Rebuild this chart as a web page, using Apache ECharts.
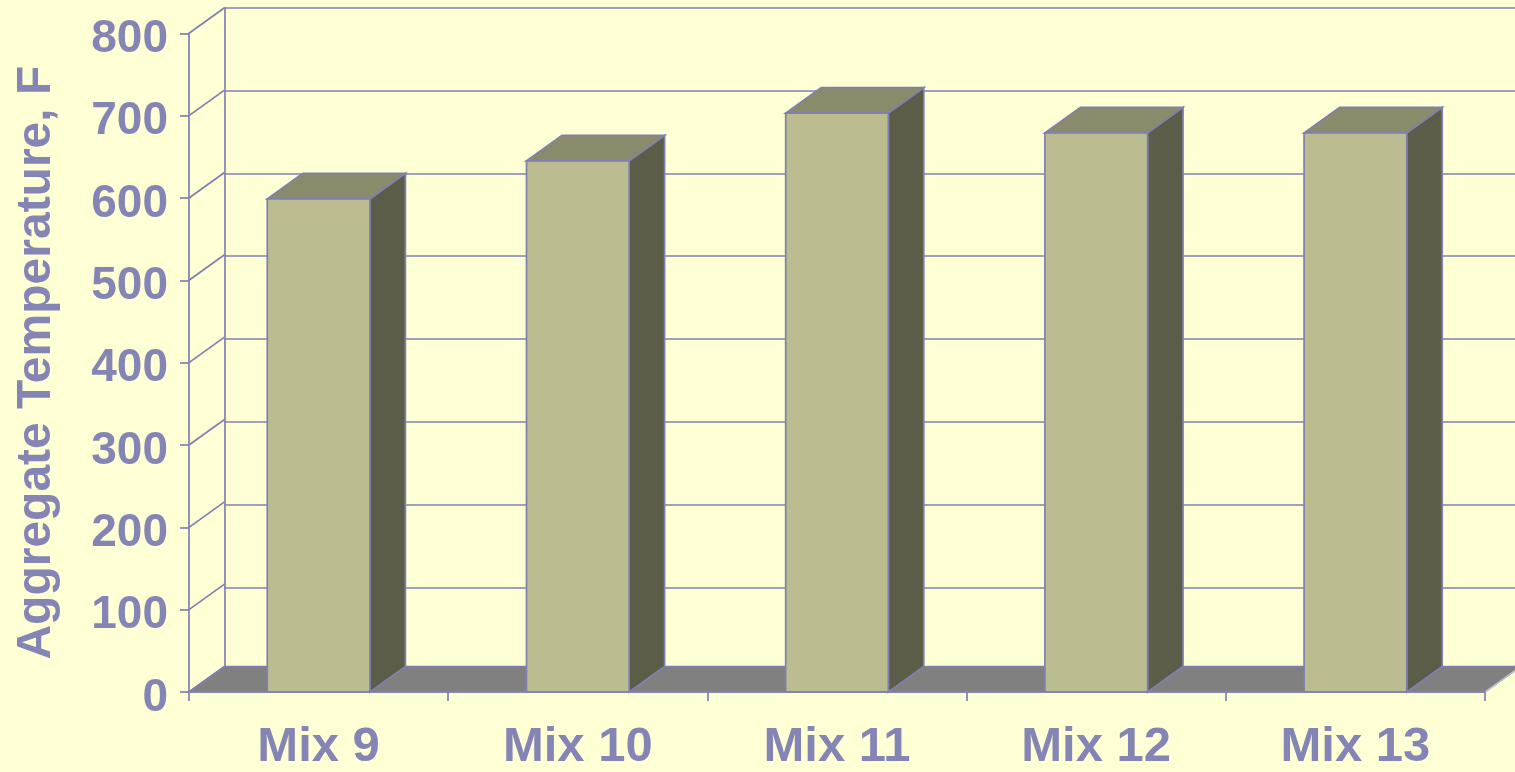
<!DOCTYPE html>
<html>
<head>
<meta charset="utf-8">
<script src="https://cdn.jsdelivr.net/npm/echarts@6/dist/echarts.min.js"></script>
<style>
html,body{margin:0;padding:0;background:#FFFFD5;}
#chart{width:1515px;height:772px;}
</style>
</head>
<body>
<div id="chart"></div>
<script>
const categories = ['Mix 9', 'Mix 10', 'Mix 11', 'Mix 12', 'Mix 13'];
const temperatures = [599, 645, 703, 679, 679];
const yTicks = [0, 100, 200, 300, 400, 500, 600, 700, 800];
const yTitle = 'Aggregate Temperature, F';

const DX = 35.5, DY = 25.5;
const LINE = '#8080B0';
const TEXT = '#8585B5';
const FONT = '"Liberation Sans", Arial, sans-serif';

const chart = echarts.init(document.getElementById('chart'));

const option = {
  backgroundColor: '#FFFFD5',
  animation: false,
  grid: [
    { left: 189, right: 30, top: 33.3, bottom: 76.3 },
    { left: 189 + DX, right: 30 - DX, top: 33.3 - DY, bottom: 76.3 + DY }
  ],
  xAxis: [
    {
      gridIndex: 0, type: 'category', data: categories, z: 10,
      axisLine: { show: true, lineStyle: { color: LINE, width: 1.7 } },
      axisTick: { show: true, length: 9, alignWithLabel: false, lineStyle: { color: LINE, width: 1.7 } },
      axisLabel: { color: TEXT, fontSize: 49, lineHeight: 49, fontWeight: 'bold', fontFamily: FONT, margin: 31 },
      splitLine: { show: false }
    },
    {
      gridIndex: 1, type: 'category', data: categories, show: false
    }
  ],
  yAxis: [
    {
      gridIndex: 0, type: 'value', min: 0, max: 800, interval: 100, z: 10,
      axisLine: { show: true, lineStyle: { color: LINE, width: 1.7 } },
      axisTick: { show: true, length: 9, lineStyle: { color: LINE, width: 1.7 } },
      axisLabel: {
        margin: 21,
        formatter: '{t|{value}}',
        rich: { t: { color: TEXT, fontSize: 46, lineHeight: 46, fontWeight: 'bold', fontFamily: FONT, padding: [12, 0, 0, 0] } }
      },
      splitLine: { show: false },
      name: yTitle, nameLocation: 'middle', nameGap: 128, nameRotate: 90,
      nameTextStyle: { color: TEXT, fontSize: 48, lineHeight: 48, fontWeight: 'bold', fontFamily: FONT }
    },
    {
      gridIndex: 1, type: 'value', min: 0, max: 800, interval: 100,
      axisLine: { show: true, lineStyle: { color: LINE, width: 1.7 } },
      axisTick: { show: false },
      axisLabel: { show: false },
      splitLine: { show: true, lineStyle: { color: LINE, width: 1.7 } }
    }
  ],
  series: [
    {
      // floor
      type: 'custom', xAxisIndex: 0, yAxisIndex: 0, z: 1,
      data: [[0, 0]],
      renderItem: function (params, api) {
        const cs = params.coordSys;
        const y0 = api.coord([0, 0])[1];
        const xL = cs.x, xR = cs.x + cs.width;
        return {
          type: 'group',
          children: [
            {
              type: 'polygon',
              shape: { points: [[xL, y0], [xR, y0], [xR + DX, y0 - DY], [xL + DX, y0 - DY]] },
              style: { fill: '#808080', stroke: LINE, lineWidth: 1.7 }
            },
            {
              type: 'line',
              shape: { x1: xR, y1: y0, x2: xR + DX, y2: y0 - DY },
              style: { stroke: '#C8C8C8', lineWidth: 1.2 }
            }
          ]
        };
      }
    },
    {
      // left side wall diagonals
      type: 'custom', xAxisIndex: 0, yAxisIndex: 0, z: 1,
      data: yTicks.map(v => [0, v]),
      renderItem: function (params, api) {
        const cs = params.coordSys;
        const y = api.coord([0, api.value(1)])[1];
        return {
          type: 'line',
          shape: { x1: cs.x, y1: y, x2: cs.x + DX, y2: y - DY },
          style: { stroke: LINE, lineWidth: 1.7 }
        };
      }
    },
    {
      // 3D bars
      type: 'custom', xAxisIndex: 0, yAxisIndex: 0, z: 3,
      data: temperatures.map((v, i) => [i, v]),
      renderItem: function (params, api) {
        const i = api.value(0), v = api.value(1);
        const top = api.coord([i, v]);
        const base = api.coord([i, 0]);
        const bw = api.size([1, 0])[0] * 0.396;
        const x0 = top[0] - bw / 2, x1 = top[0] + bw / 2;
        const yt = top[1], yb = base[1];
        const st = { stroke: LINE, lineWidth: 1.7, lineJoin: 'miter' };
        return {
          type: 'group',
          children: [
            { type: 'polygon', shape: { points: [[x1, yt], [x1 + DX, yt - DY], [x1 + DX, yb - DY], [x1, yb]] },
              style: Object.assign({ fill: '#5C5D48' }, st) },
            { type: 'polygon', shape: { points: [[x0, yt], [x1, yt], [x1 + DX, yt - DY], [x0 + DX, yt - DY]] },
              style: Object.assign({ fill: '#8A8B6A' }, st) },
            { type: 'rect', shape: { x: x0, y: yt, width: bw, height: yb - yt },
              style: Object.assign({ fill: '#BBBD90' }, st) }
          ]
        };
      }
    }
  ]
};

chart.setOption(option);
</script>
</body>
</html>
